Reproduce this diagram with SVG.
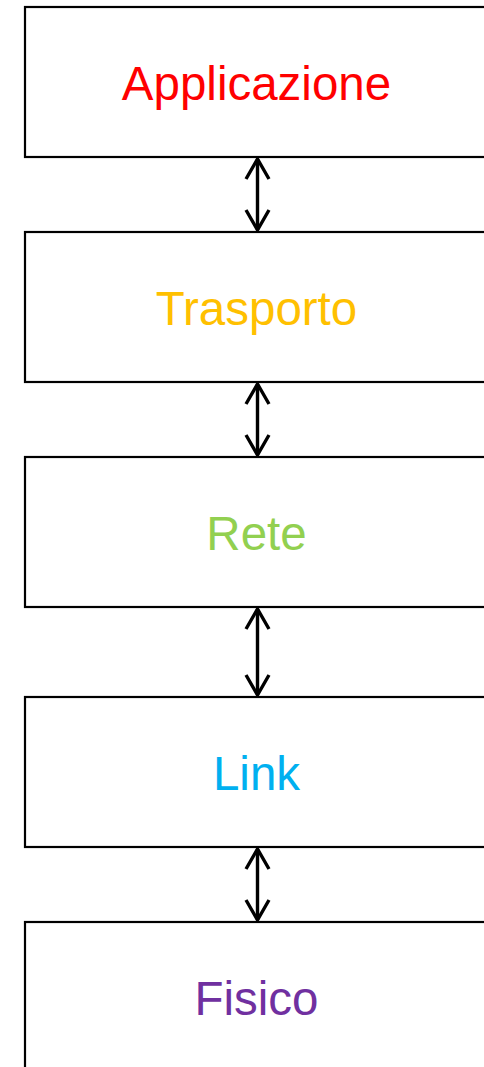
<svg xmlns="http://www.w3.org/2000/svg" width="484" height="1067" viewBox="0 0 484 1067">
  <style>
    .box { fill: #ffffff; stroke: #000000; stroke-width: 2.2; }
    .label { font-family: "Liberation Sans", Arial, sans-serif; font-size: 47.5px; text-anchor: middle; }
    .link { stroke: #000000; stroke-width: 3.4; fill: none; marker-start: url(#head); marker-end: url(#head); }
  </style>
  <defs>
    <!-- open chevron arrowhead, tip sits on the line end -->
    <marker id="head" viewBox="-23 -14 25 28" refX="0" refY="0" markerWidth="25" markerHeight="28" markerUnits="userSpaceOnUse" orient="auto-start-reverse">
      <path d="M -20 -11.5 L 0 0 L -20 11.5" fill="none" stroke="#000000" stroke-width="3.4" stroke-linejoin="miter"/>
    </marker>
  </defs>
  <rect width="484" height="1067" fill="#ffffff"/>

  <g id="applicazione">
    <rect class="box" x="25" y="7" width="470" height="150"/>
    <text class="label" x="256.5" y="100" fill="#FF0000">Applicazione</text>
  </g>
  <g id="trasporto">
    <rect class="box" x="25" y="232" width="470" height="150"/>
    <text class="label" x="256.5" y="325" fill="#FFC000">Trasporto</text>
  </g>
  <g id="rete">
    <rect class="box" x="25" y="457" width="470" height="150"/>
    <text class="label" x="256.5" y="550" fill="#92D050">Rete</text>
  </g>
  <g id="link">
    <rect class="box" x="25" y="697" width="470" height="150"/>
    <text class="label" x="256.5" y="790" fill="#00B0F0">Link</text>
  </g>
  <g id="fisico">
    <rect class="box" x="25" y="922" width="470" height="160"/>
    <text class="label" x="256.5" y="1015" fill="#7030A0">Fisico</text>
  </g>

  <g id="connectors">
    <line class="link" x1="257.5" y1="159" x2="257.5" y2="230"/>
    <line class="link" x1="257.5" y1="384" x2="257.5" y2="455"/>
    <line class="link" x1="257.5" y1="609" x2="257.5" y2="695"/>
    <line class="link" x1="257.5" y1="849" x2="257.5" y2="920"/>
  </g>
</svg>
